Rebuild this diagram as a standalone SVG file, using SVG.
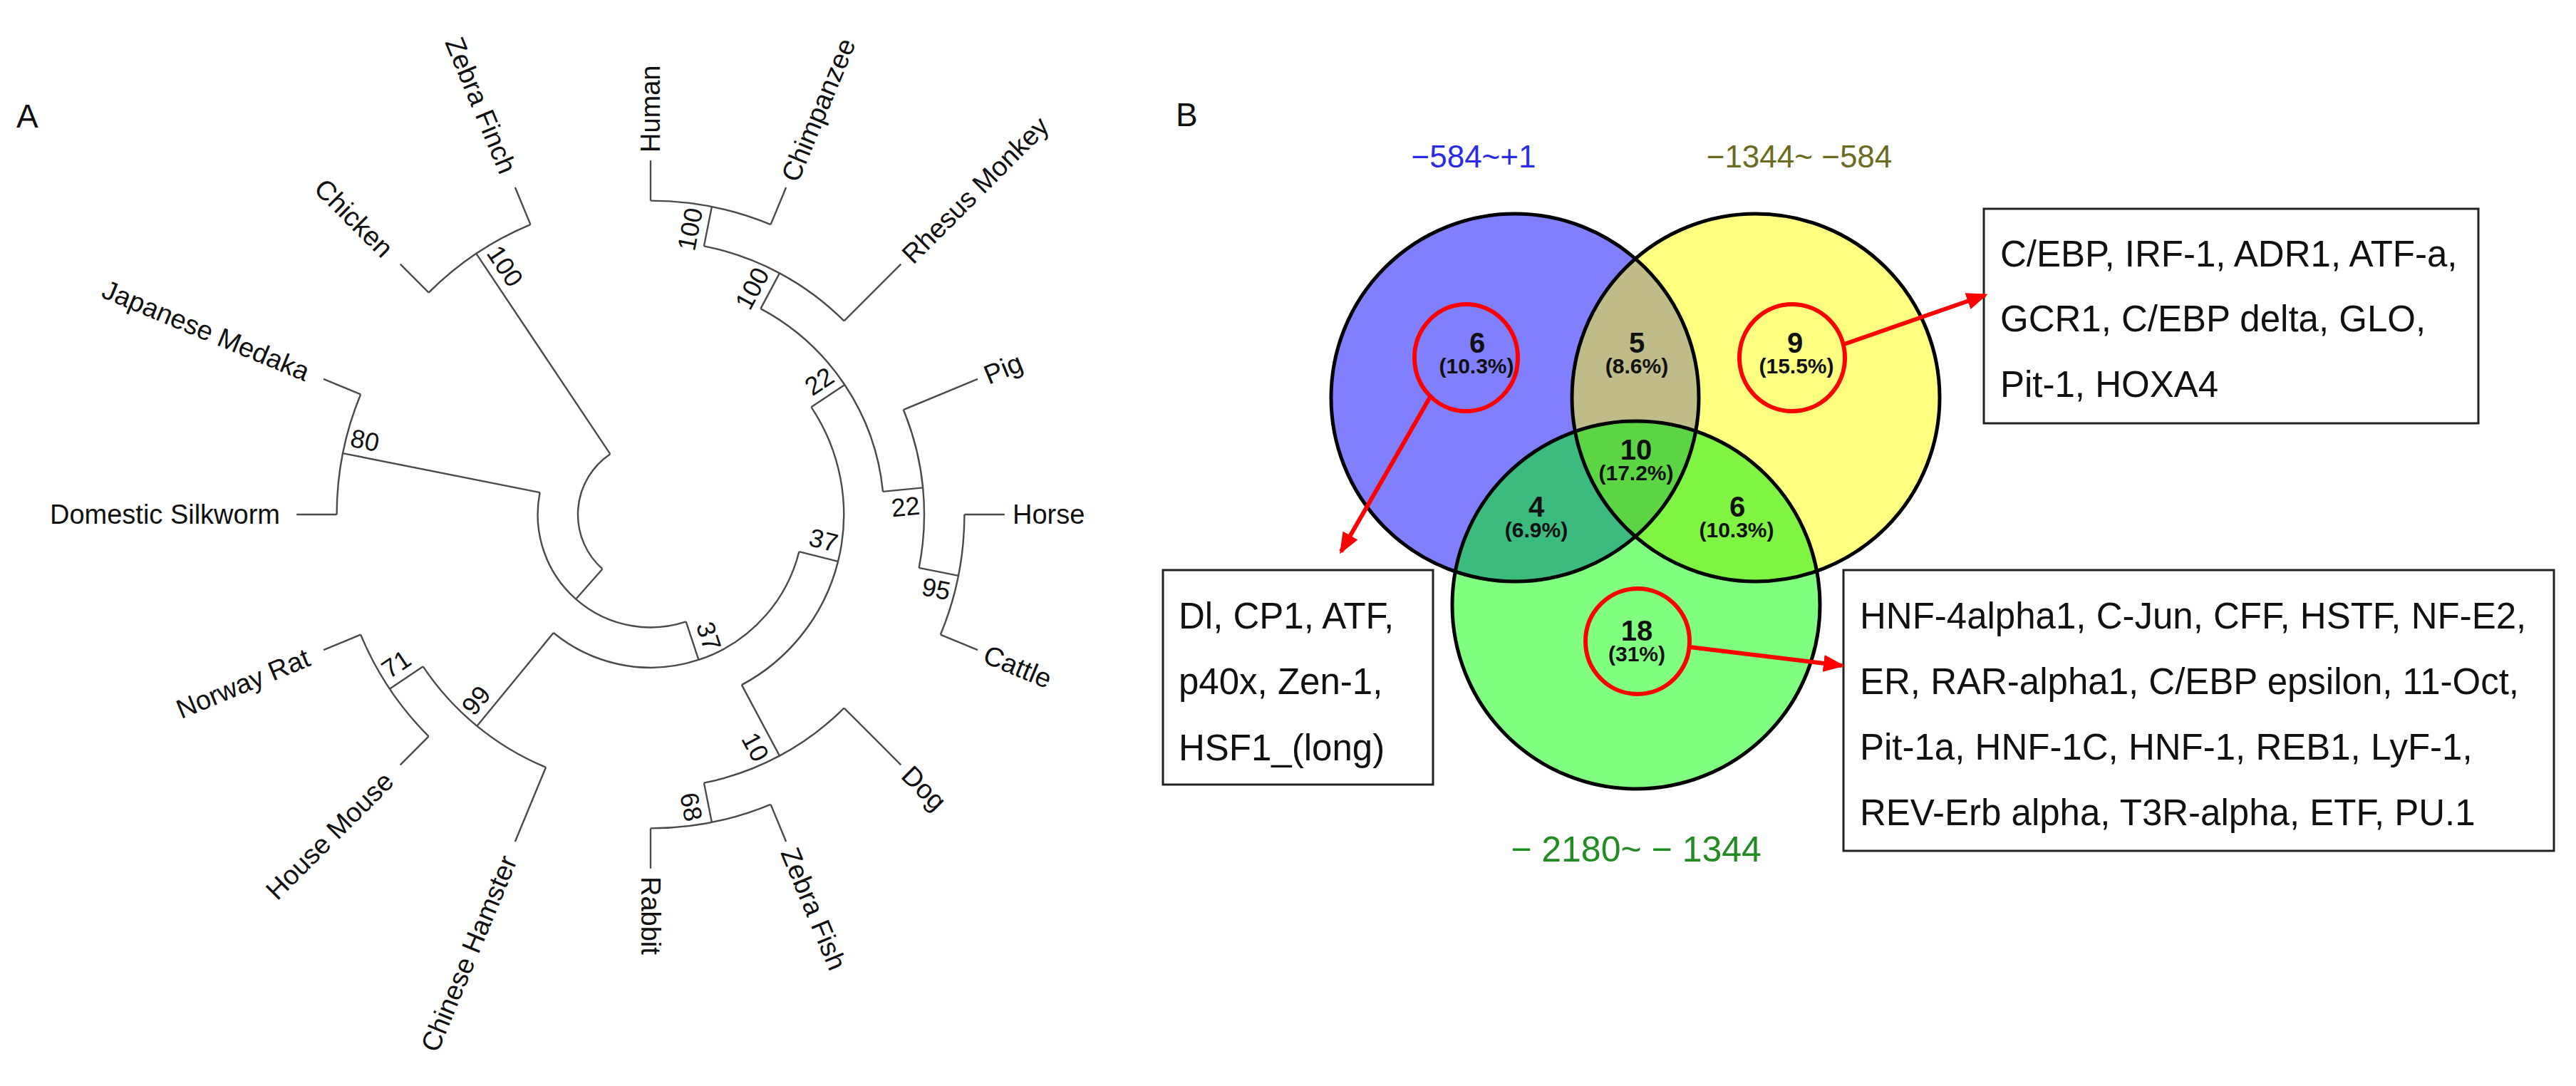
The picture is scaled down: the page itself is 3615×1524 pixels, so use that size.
<svg xmlns="http://www.w3.org/2000/svg" width="3615" height="1524" viewBox="0 0 3615 1524">
<style>
.br{fill:none;stroke:#4a4a4a;stroke-width:2.4}
.sp{font-family:"Liberation Sans",Arial,sans-serif;font-size:38px;fill:#111}
.bs{font-family:"Liberation Sans",Arial,sans-serif;font-size:36px;fill:#111;text-anchor:middle}
.pl{font-family:"Liberation Sans",Arial,sans-serif;font-size:46px;fill:#111}
.ol{fill:none;stroke:#000;stroke-width:5}
.num{font-family:"Liberation Sans",Arial,sans-serif;font-weight:bold;font-size:40px;fill:#111;text-anchor:middle}
.pct{font-family:"Liberation Sans",Arial,sans-serif;font-weight:bold;font-size:30px;fill:#111;text-anchor:middle}
.rc{fill:none;stroke:#ff0000;stroke-width:6}
.rng{font-family:"Liberation Sans",Arial,sans-serif;text-anchor:middle}
.box{fill:#fff;stroke:#222;stroke-width:3}
.bt{font-family:"Liberation Sans",Arial,sans-serif;font-size:51px;fill:#111}
.arr{fill:none;stroke:#ff0000;stroke-width:6;marker-end:url(#ah)}
</style>
<defs>
<marker id="ah" markerWidth="30" markerHeight="24" refX="26" refY="12" orient="auto" markerUnits="userSpaceOnUse"><path d="M0,0 L30,12 L0,24 z" fill="#ff0000"/></marker>
<clipPath id="cB"><circle cx="2126" cy="558" r="258"/></clipPath>
<clipPath id="cY"><circle cx="2464" cy="558" r="258"/></clipPath>
</defs>
<rect width="3615" height="1524" fill="#fff"/>

<!-- Panel A -->
<text class="pl" x="23" y="179">A</text>
<g id="tree-connectors">
<path class="br" d="M 845.47 798.44 A 102 102 0 0 1 856.33 637.19"/>
<path class="br" d="M 856.33 637.19 L 668.33 355.82"/>
<path class="br" d="M 601.59 410.59 A 440.4 440.4 0 0 1 744.47 315.12"/>
<path class="br" d="M 601.59 410.59 L 561.71 370.71"/>
<path class="br" d="M 744.47 315.12 L 722.88 263.02"/>
<path class="br" d="M 845.47 798.44 L 808.13 840.71"/>
<path class="br" d="M 962.69 872.41 A 158.4 158.4 0 0 1 757.64 691.10"/>
<path class="br" d="M 757.64 691.10 L 481.06 636.08"/>
<path class="br" d="M 472.6 722 A 440.4 440.4 0 0 1 506.12 553.47"/>
<path class="br" d="M 472.6 722 L 416.2 722"/>
<path class="br" d="M 506.12 553.47 L 454.02 531.88"/>
<path class="br" d="M 962.69 872.41 L 980.38 925.96"/>
<path class="br" d="M 1121.36 774.19 A 214.8 214.8 0 0 1 776.73 888.04"/>
<path class="br" d="M 776.73 888.04 L 669.39 1018.84"/>
<path class="br" d="M 766.05 1076.77 A 384 384 0 0 1 593.72 935.34"/>
<path class="br" d="M 766.05 1076.77 L 722.88 1180.98"/>
<path class="br" d="M 593.72 935.34 L 546.82 966.67"/>
<path class="br" d="M 601.59 1033.41 A 440.4 440.4 0 0 1 506.12 890.53"/>
<path class="br" d="M 601.59 1033.41 L 561.71 1073.29"/>
<path class="br" d="M 506.12 890.53 L 454.02 912.12"/>
<path class="br" d="M 1121.36 774.19 L 1176.07 787.90"/>
<path class="br" d="M 1138.49 571.33 A 271.2 271.2 0 0 1 1040.84 961.18"/>
<path class="br" d="M 1138.49 571.33 L 1185.39 540.0"/>
<path class="br" d="M 1067.43 433.08 A 327.6 327.6 0 0 1 1239.02 689.89"/>
<path class="br" d="M 1067.43 433.08 L 1094.02 383.34"/>
<path class="br" d="M 987.91 345.38 A 384 384 0 0 1 1184.53 450.47"/>
<path class="br" d="M 1184.53 450.47 L 1264.29 370.71"/>
<path class="br" d="M 987.91 345.38 L 998.92 290.06"/>
<path class="br" d="M 913 281.6 A 440.4 440.4 0 0 1 1081.53 315.12"/>
<path class="br" d="M 913 281.6 L 913 225.2"/>
<path class="br" d="M 1081.53 315.12 L 1103.12 263.02"/>
<path class="br" d="M 1239.02 689.89 L 1295.15 684.36"/>
<path class="br" d="M 1267.77 575.05 A 384 384 0 0 1 1289.62 796.91"/>
<path class="br" d="M 1267.77 575.05 L 1371.98 531.88"/>
<path class="br" d="M 1289.62 796.91 L 1344.94 807.92"/>
<path class="br" d="M 1353.4 722 A 440.4 440.4 0 0 1 1319.88 890.53"/>
<path class="br" d="M 1353.4 722 L 1409.8 722"/>
<path class="br" d="M 1319.88 890.53 L 1371.98 912.12"/>
<path class="br" d="M 1040.84 961.18 L 1094.02 1060.66"/>
<path class="br" d="M 1184.53 993.53 A 384 384 0 0 1 987.91 1098.62"/>
<path class="br" d="M 1184.53 993.53 L 1264.29 1073.29"/>
<path class="br" d="M 987.91 1098.62 L 998.92 1153.94"/>
<path class="br" d="M 1081.53 1128.88 A 440.4 440.4 0 0 1 913 1162.4"/>
<path class="br" d="M 1081.53 1128.88 L 1103.12 1180.98"/>
<path class="br" d="M 913 1162.4 L 913 1218.8"/>
</g>

<g id="leaf-human"><text class="sp" transform="translate(913 214) rotate(-90)" dy="0.35em">Human</text></g>
<g id="leaf-chimpanzee"><text class="sp" transform="translate(1107.4 252.7) rotate(-67.5)" dy="0.35em">Chimpanzee</text></g>
<g id="leaf-rhesus"><text class="sp" transform="translate(1272.2 362.8) rotate(-45)" dy="0.35em">Rhesus Monkey</text></g>
<g id="leaf-pig"><text class="sp" transform="translate(1382.3 527.6) rotate(-22.5)" dy="0.35em">Pig</text></g>
<g id="leaf-horse"><text class="sp" transform="translate(1421 722)" dy="0.35em">Horse</text></g>
<g id="leaf-cattle"><text class="sp" transform="translate(1382.3 916.4) rotate(22.5)" dy="0.35em">Cattle</text></g>
<g id="leaf-dog"><text class="sp" transform="translate(1272.2 1081.2) rotate(45)" dy="0.35em">Dog</text></g>
<g id="leaf-zebrafish"><text class="sp" transform="translate(1107.4 1191.3) rotate(67.5)" dy="0.35em">Zebra Fish</text></g>
<g id="leaf-rabbit"><text class="sp" transform="translate(913 1230) rotate(90)" dy="0.35em">Rabbit</text></g>
<g id="leaf-hamster"><text class="sp" text-anchor="end" transform="translate(714 1202.5) rotate(-67.5)" dy="0.35em">Chinese Hamster</text></g>
<g id="leaf-mouse"><text class="sp" text-anchor="end" transform="translate(545.3 1089.7) rotate(-45)" dy="0.35em">House Mouse</text></g>
<g id="leaf-rat"><text class="sp" text-anchor="end" transform="translate(432.6 921) rotate(-22.5)" dy="0.35em">Norway Rat</text></g>
<g id="leaf-silkworm"><text class="sp" text-anchor="end" transform="translate(393 722)" dy="0.35em">Domestic Silkworm</text></g>
<g id="leaf-medaka"><text class="sp" text-anchor="end" transform="translate(432.6 523) rotate(22.5)" dy="0.35em">Japanese Medaka</text></g>
<g id="leaf-chicken"><text class="sp" text-anchor="end" transform="translate(545.3 354.3) rotate(45)" dy="0.35em">Chicken</text></g>
<g id="leaf-zebrafinch"><text class="sp" text-anchor="end" transform="translate(714 241.5) rotate(67.5)" dy="0.35em">Zebra Finch</text></g>

<g id="bootstrap">
<text class="bs" transform="translate(968.2 321.6) rotate(-78.75)" dy="0.35em">100</text>
<text class="bs" transform="translate(1055.4 404.7) rotate(-61.875)" dy="0.35em">100</text>
<text class="bs" transform="translate(1149.6 535) rotate(-33.75)" dy="0.35em">22</text>
<text class="bs" transform="translate(1270.7 710.9) rotate(-5.625)" dy="0.35em">22</text>
<text class="bs" transform="translate(1313.8 826.2) rotate(11.25)" dy="0.35em">95</text>
<text class="bs" transform="translate(1155.7 758) rotate(14.06)" dy="0.35em">37</text>
<text class="bs" transform="translate(994.7 892.8) rotate(71.72)" dy="0.35em">37</text>
<text class="bs" transform="translate(1060.1 1048.1) rotate(61.875)" dy="0.35em">10</text>
<text class="bs" transform="translate(970.2 1132.2) rotate(78.75)" dy="0.35em">68</text>
<text class="bs" transform="translate(667.9 982.8) rotate(-50.625)" dy="0.35em">99</text>
<text class="bs" transform="translate(556 931.7) rotate(-33.75)" dy="0.35em">71</text>
<text class="bs" transform="translate(512.2 617.8) rotate(11.25)" dy="0.35em">80</text>
<text class="bs" transform="translate(708.9 373.3) rotate(56.25)" dy="0.35em">100</text>
</g>

<!-- Panel B -->
<text class="pl" x="1650" y="177">B</text>
<g id="set-blue">
<circle cx="2126" cy="558" r="258" fill="#8080ff"/>
<text class="rng" x="2068" y="235" font-size="44" fill="#2b2be6">−584~+1</text>
</g>
<g id="set-yellow">
<circle cx="2464" cy="558" r="258" fill="#ffff80"/>
<text class="rng" x="2525" y="235" font-size="44" fill="#6b6b22">−1344~ −584</text>
</g>
<g id="set-green">
<circle cx="2296" cy="849" r="258" fill="#80ff80"/>
<text class="rng" x="2296" y="1209" font-size="50" fill="#228b22">− 2180~ − 1344</text>
</g>
<g id="overlaps">
<circle cx="2464" cy="558" r="258" fill="#bfbc8a" clip-path="url(#cB)"/>
<circle cx="2296" cy="849" r="258" fill="#3cbb7f" clip-path="url(#cB)"/>
<circle cx="2296" cy="849" r="258" fill="#80f442" clip-path="url(#cY)"/>
<g clip-path="url(#cB)"><circle cx="2296" cy="849" r="258" fill="#5cd545" clip-path="url(#cY)"/></g>
</g>
<g id="outlines">
<circle class="ol" cx="2126" cy="558" r="258"/>
<circle class="ol" cx="2464" cy="558" r="258"/>
<circle class="ol" cx="2296" cy="849" r="258"/>
</g>
<g id="region-blue-only"><text class="num" x="2073" y="495">6</text><text class="pct" x="2072" y="524">(10.3%)</text><ellipse class="rc" cx="2057.5" cy="502" rx="72.5" ry="75"/></g>
<g id="region-blue-yellow"><text class="num" x="2297" y="495">5</text><text class="pct" x="2297" y="524">(8.6%)</text></g>
<g id="region-yellow-only"><text class="num" x="2519" y="495">9</text><text class="pct" x="2521" y="524">(15.5%)</text><ellipse class="rc" cx="2515" cy="502" rx="74" ry="75"/></g>
<g id="region-all"><text class="num" x="2296" y="645">10</text><text class="pct" x="2296" y="674">(17.2%)</text></g>
<g id="region-blue-green"><text class="num" x="2156" y="725">4</text><text class="pct" x="2156" y="754">(6.9%)</text></g>
<g id="region-yellow-green"><text class="num" x="2438" y="725">6</text><text class="pct" x="2437" y="754">(10.3%)</text></g>
<g id="region-green-only"><text class="num" x="2297" y="899">18</text><text class="pct" x="2297" y="928">(31%)</text><ellipse class="rc" cx="2298" cy="900" rx="73" ry="74"/></g>

<g id="box-left">
<rect class="box" x="1632" y="800" width="379" height="301"/>
<text class="bt" x="1654" y="882">Dl, CP1, ATF,</text>
<text class="bt" x="1654" y="974">p40x, Zen-1,</text>
<text class="bt" x="1654" y="1067">HSF1_(long)</text>
</g>
<g id="box-top-right">
<rect class="box" x="2784" y="293" width="694" height="301"/>
<text class="bt" x="2807" y="374">C/EBP, IRF-1, ADR1, ATF-a,</text>
<text class="bt" x="2807" y="465">GCR1, C/EBP delta, GLO,</text>
<text class="bt" x="2807" y="557">Pit-1, HOXA4</text>
</g>
<g id="box-bottom-right">
<rect class="box" x="2587" y="800" width="997" height="394"/>
<text class="bt" x="2610" y="882">HNF-4alpha1, C-Jun, CFF, HSTF, NF-E2,</text>
<text class="bt" x="2610" y="974">ER, RAR-alpha1, C/EBP epsilon, 11-Oct,</text>
<text class="bt" x="2610" y="1066">Pit-1a, HNF-1C, HNF-1, REB1, LyF-1,</text>
<text class="bt" x="2610" y="1158">REV-Erb alpha, T3R-alpha, ETF, PU.1</text>
</g>
<g id="venn-connectors">
<path class="arr" d="M 2007 557 L 1882 774"/>
<path class="arr" d="M 2588 483 L 2786 414"/>
<path class="arr" d="M 2371 908 L 2585 934"/>
</g>
</svg>
